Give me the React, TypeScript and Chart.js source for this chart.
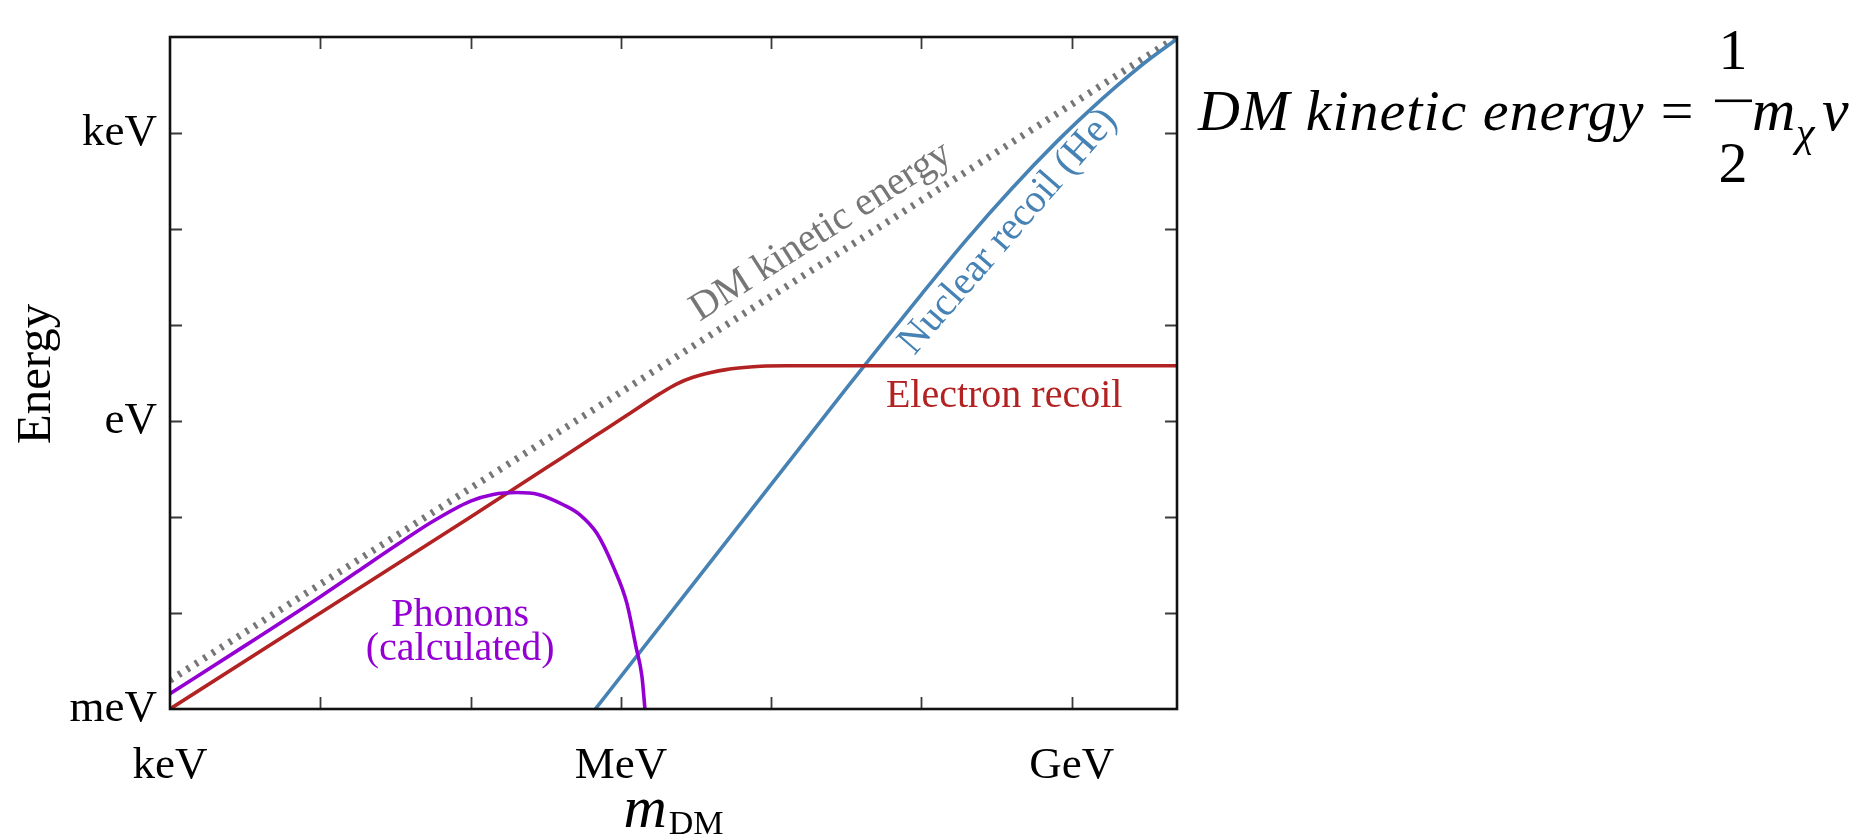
import React, { useEffect, useRef } from "react";
import { Chart, registerables } from "chart.js";

Chart.register(...registerables);

// Axes are log10 of the dark-matter mass (eV) and log10 of the deposited energy (eV).
const massTicks = [3, 4, 5, 6, 7, 8, 9];
const massTickLabels: Record<number, string> = { 3: "keV", 6: "MeV", 9: "GeV" };
const energyTicks = [-3, -2, -1, 0, 1, 2, 3, 4];
const energyTickLabels: Record<number, string> = { [-3]: "meV", 0: "eV", 3: "keV" };

// DM kinetic energy
const kineticMass = [3.0, 6.0, 9.7];
const kineticEnergy = [-2.7, 0.3, 4.0];

// Electron recoil
const electronMass = [3.0, 4.0, 5.0, 5.6, 5.82, 6.04, 6.26, 6.37, 6.48, 6.6, 6.7, 6.82, 6.93, 7.1, 8.0, 9.7];
const electronEnergy = [-3.0, -2.0, -1.0, -0.39, -0.165, 0.06, 0.285, 0.385, 0.455, 0.505, 0.535, 0.557, 0.57, 0.575, 0.575, 0.575];

// Phonons (calculated)
const phononMass = [3.0, 3.5, 4.0, 4.25, 4.5, 4.75, 5.0, 5.15, 5.31, 5.45, 5.62, 5.73, 5.84, 5.95, 6.04, 6.1, 6.14, 6.16];
const phononEnergy = [-2.84, -2.34, -1.83, -1.565, -1.3, -1.045, -0.835, -0.765, -0.745, -0.765, -0.875, -0.98, -1.17, -1.52, -1.9, -2.35, -2.66, -3.0];

// Nuclear recoil (He)
const nuclearMass = [5.83, 6.5, 7.0, 7.5, 8.0, 8.3, 8.6, 8.9, 9.1, 9.3, 9.5, 9.7];
const nuclearEnergy = [-3.0, -1.66, -0.66, 0.34, 1.32, 1.89, 2.42, 2.91, 3.21, 3.49, 3.75, 3.98];

const SERIF = "'Liberation Serif', 'Times New Roman', serif";
const GRAY = "#767676";
const RED = "#b22222";
const PURPLE = "#9400d3";
const BLUE = "#4682b4";

const zip = (xs: number[], ys: number[]) => xs.map((x, i) => ({ x, y: ys[i] }));

function textAlong(
  ctx: CanvasRenderingContext2D,
  text: string,
  px: number,
  py: number,
  angle: number,
  offset: number,
  color: string,
  font: string
) {
  ctx.save();
  ctx.translate(px + offset * Math.sin(angle), py - offset * Math.cos(angle));
  ctx.rotate(angle);
  ctx.fillStyle = color;
  ctx.font = font;
  ctx.textAlign = "center";
  ctx.textBaseline = "alphabetic";
  ctx.fillText(text, 0, 0);
  ctx.restore();
}

const decorPlugin = {
  id: "decor",
  afterDatasetsDraw(chart: any) {
    const { ctx, chartArea: a, scales } = chart;
    const xs = scales.x;
    const ys = scales.y;
    ctx.save();

    // inward ticks on all four sides
    ctx.strokeStyle = "#3a3a3a";
    ctx.lineWidth = 1.8;
    ctx.beginPath();
    for (const v of massTicks) {
      const px = Math.round(xs.getPixelForValue(v)) + 0.5;
      if (px <= a.left + 1 || px >= a.right - 1) continue;
      ctx.moveTo(px, a.bottom);
      ctx.lineTo(px, a.bottom - 12);
      ctx.moveTo(px, a.top);
      ctx.lineTo(px, a.top + 12);
    }
    for (const v of energyTicks) {
      const py = Math.round(ys.getPixelForValue(v)) + 0.5;
      if (py <= a.top + 1 || py >= a.bottom - 1) continue;
      ctx.moveTo(a.left, py);
      ctx.lineTo(a.left + 12, py);
      ctx.moveTo(a.right, py);
      ctx.lineTo(a.right - 12, py);
    }
    ctx.stroke();

    // frame
    ctx.strokeStyle = "#111";
    ctx.lineWidth = 2.6;
    ctx.strokeRect(a.left, a.top, a.right - a.left, a.bottom - a.top);

    // tick labels
    ctx.fillStyle = "#000";
    ctx.font = `45px ${SERIF}`;
    ctx.textBaseline = "alphabetic";
    ctx.textAlign = "center";
    for (const v of massTicks) {
      const lab = massTickLabels[v];
      if (!lab) continue;
      ctx.fillText(lab, xs.getPixelForValue(v), a.bottom + 69);
    }
    ctx.textAlign = "right";
    for (const v of energyTicks) {
      const lab = energyTickLabels[v];
      if (!lab) continue;
      ctx.fillText(lab, a.left - 13, ys.getPixelForValue(v) + 12);
    }

    // axis titles
    ctx.save();
    ctx.translate(50, (a.top + a.bottom) / 2 + 1);
    ctx.rotate(-Math.PI / 2);
    ctx.textAlign = "center";
    ctx.font = `49px ${SERIF}`;
    ctx.fillText("Energy", 0, 0);
    ctx.restore();

    const cx = (a.left + a.right) / 2;
    ctx.textAlign = "left";
    ctx.font = `italic 60px ${SERIF}`;
    const mW = ctx.measureText("m").width;
    ctx.font = `34px ${SERIF}`;
    const subW = ctx.measureText("DM").width;
    const x0 = cx - (mW + 2 + subW) / 2;
    ctx.font = `italic 60px ${SERIF}`;
    ctx.fillText("m", x0, a.bottom + 118);
    ctx.font = `34px ${SERIF}`;
    ctx.fillText("DM", x0 + mW + 2, a.bottom + 125);

    // curve labels
    const lab = `40px ${SERIF}`;
    const gA = xs.getPixelForValue(kineticMass[0]);
    const gB = xs.getPixelForValue(kineticMass[2]);
    const gAy = ys.getPixelForValue(kineticEnergy[0]);
    const gBy = ys.getPixelForValue(kineticEnergy[2]);
    const gAngle = Math.atan2(gBy - gAy, gB - gA);
    textAlong(ctx, "DM kinetic energy", xs.getPixelForValue(7.43), ys.getPixelForValue(1.73), gAngle, 17, GRAY, lab);
    textAlong(ctx, "Nuclear recoil (He)", xs.getPixelForValue(8.44), ys.getPixelForValue(2.16), (-49 * Math.PI) / 180, -38, BLUE, lab);

    ctx.textAlign = "center";
    ctx.font = lab;
    ctx.fillStyle = RED;
    ctx.fillText("Electron recoil", xs.getPixelForValue(8.55), ys.getPixelForValue(0.575) + 41);
    ctx.fillStyle = PURPLE;
    ctx.fillText("Phonons", xs.getPixelForValue(4.93), ys.getPixelForValue(-2.135));
    ctx.fillText("(calculated)", xs.getPixelForValue(4.93), ys.getPixelForValue(-2.49));

    // kinetic-energy formula to the right of the plot
    ctx.fillStyle = "#000";
    ctx.textAlign = "left";
    ctx.font = `italic 58px ${SERIF}`;
    (ctx as any).letterSpacing = "1px";
    ctx.fillText("DM kinetic energy", 1198, 130);
    (ctx as any).letterSpacing = "0px";
    ctx.font = `58px ${SERIF}`;
    ctx.textAlign = "center";
    ctx.fillText("=", 1677, 130);
    ctx.fillText("1", 1733, 69);
    ctx.fillText("2", 1733, 182);
    ctx.fillRect(1715, 99.5, 37, 2.6);
    ctx.textAlign = "left";
    ctx.font = `italic 60px ${SERIF}`;
    ctx.fillText("m", 1752, 130);
    ctx.font = `italic 42px ${SERIF}`;
    ctx.fillText("\u03c7", 1796, 146);
    ctx.font = `italic 60px ${SERIF}`;
    ctx.fillText("v", 1822, 130);

    ctx.restore();
  },
};

export default function App() {
  const ref = useRef<HTMLCanvasElement | null>(null);

  useEffect(() => {
    const canvas = ref.current;
    if (!canvas) return;
    const chart = new Chart(canvas, {
      type: "line",
      data: {
        datasets: [
          {
            label: "Phonons (calculated)",
            data: zip(phononMass, phononEnergy),
            borderColor: PURPLE,
            borderWidth: 3.6,
            pointRadius: 0,
            cubicInterpolationMode: "monotone",
            order: 0,
          },
          {
            label: "Electron recoil",
            data: zip(electronMass, electronEnergy),
            borderColor: RED,
            borderWidth: 3.6,
            pointRadius: 0,
            cubicInterpolationMode: "monotone",
            order: 1,
          },
          {
            label: "Nuclear recoil (He)",
            data: zip(nuclearMass, nuclearEnergy),
            borderColor: BLUE,
            borderWidth: 3.6,
            pointRadius: 0,
            cubicInterpolationMode: "monotone",
            order: 2,
          },
          {
            label: "DM kinetic energy",
            data: zip(kineticMass, kineticEnergy),
            borderColor: GRAY,
            borderWidth: 7,
            borderDash: [3, 7],
            borderCapStyle: "butt",
            pointRadius: 0,
            tension: 0,
            order: 3,
          },
        ],
      },
      options: {
        responsive: false,
        animation: false,
        devicePixelRatio: 1,
        events: [],
        layout: { padding: { left: 0, right: 685, top: 37, bottom: 0 } },
        plugins: { legend: { display: false }, tooltip: { enabled: false } },
        scales: {
          x: {
            type: "linear",
            min: 3,
            max: 9.7,
            grid: { display: false },
            border: { display: false },
            ticks: { display: false },
            afterFit: (s: any) => {
              s.height = 129;
            },
          },
          y: {
            type: "linear",
            min: -3,
            max: 4,
            grid: { display: false },
            border: { display: false },
            ticks: { display: false },
            afterFit: (s: any) => {
              s.width = 170;
            },
          },
        },
      },
      plugins: [decorPlugin],
    } as any);
    return () => chart.destroy();
  }, []);

  return (
    <div style={{ position: "fixed", left: 0, top: 0, width: 1862, height: 838, background: "#fff" }}>
      <canvas ref={ref} width={1862} height={838} style={{ display: "block", width: 1862, height: 838 }} />
    </div>
  );
}
